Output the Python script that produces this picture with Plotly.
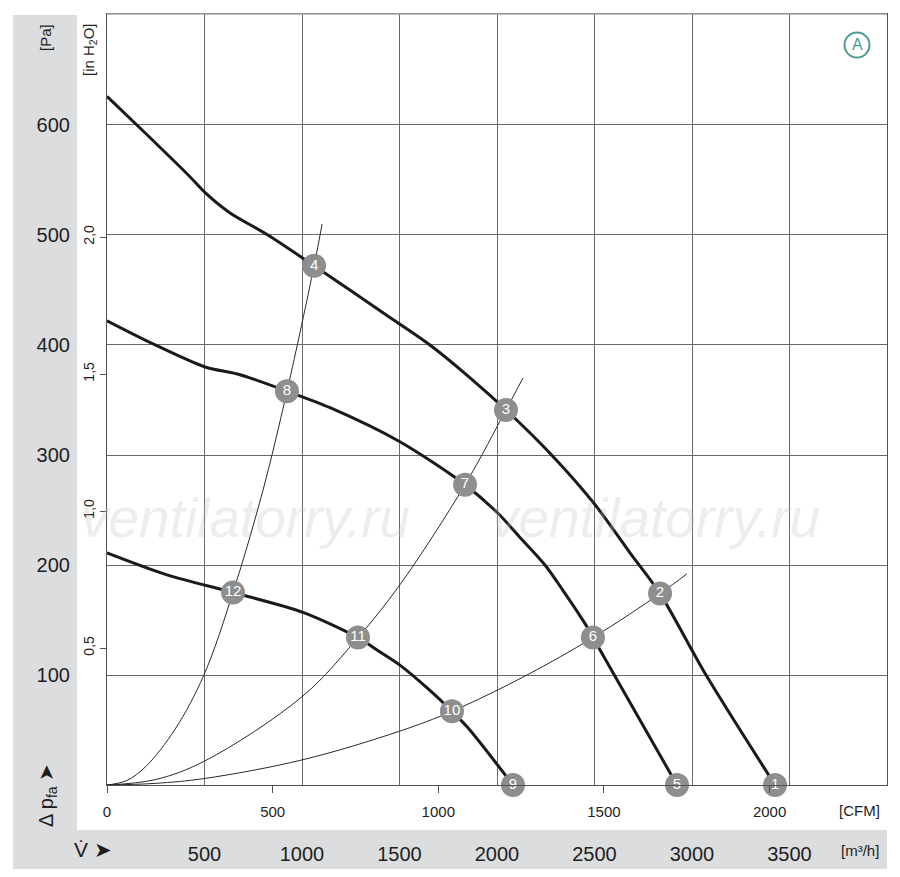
import plotly.graph_objects as go

# readings from the chart, flow in m3/h, pressure in Pa
q_fan_a = [0, 200, 425, 506, 631, 825, 1062, 1451, 1656, 1850, 2046, 2280, 2502, 2682, 2836, 3072, 3426]
p_fan_a = [626, 592, 553, 538, 520, 500, 472, 425, 400, 372, 341, 300, 255, 211, 174, 100, 0]

q_fan_b = [0, 236, 503, 682, 923, 1144, 1502, 1836, 2005, 2118, 2246, 2338, 2461, 2492, 2923]
p_fan_b = [422, 401, 380, 373, 358, 343, 312, 273, 247, 225, 200, 177, 144, 134, 0]

q_fan_c = [0, 308, 646, 1005, 1287, 1400, 1502, 1656, 1769, 1851, 2082]
p_fan_c = [211, 191, 175, 157, 134, 121, 109, 86, 67, 52, 0]

q_sys_1 = [0, 100, 200, 350, 497, 646, 800, 923, 1062, 1103]
p_sys_1 = [0, 4, 17, 51, 100, 175, 268, 358, 472, 510]

q_sys_2 = [0, 250, 503, 1005, 1287, 1502, 1836, 2046, 2133]
p_sys_2 = [0, 5, 22, 81, 134, 182, 273, 341, 370]

q_sys_3 = [0, 250, 503, 1005, 1502, 1769, 2154, 2492, 2836, 2974]
p_sys_3 = [0, 1.5, 6, 23, 49, 67, 100, 134, 174, 192]

pt_id = ["1", "2", "3", "4", "5", "6", "7", "8", "9", "10", "11", "12"]
pt_q = [3426, 2836, 2046, 1062, 2923, 2492, 1836, 923, 2082, 1769, 1287, 646]
pt_p = [0, 174, 341, 472, 0, 134, 273, 358, 0, 67, 134, 175]

m3h_ticks = [500, 1000, 1500, 2000, 2500, 3000, 3500]
cfm_ticks = [0, 500, 1000, 1500, 2000]
pa_ticks = [100, 200, 300, 400, 500, 600]
inh2o_ticks = [0.5, 1.0, 1.5, 2.0]
inh2o_text = ["0,5", "1,0", "1,5", "2,0"]

CFM = 1.699011   # m3/h per CFM
INH2O = 249.089  # Pa per inch of water
X_MAX = 4000
Y_MAX = 700.9

FONT = "Liberation Sans, Arial, sans-serif"
INK = "#1e1e1e"
GRID = "#6a6a6a"
BAND = "#dcdddf"

# page has an 8px body margin, so the figure is a bit smaller
OFF = 8
W, H = 892, 869
L, R, T, B = 99, 13, 6, 92


def px(x):
    return (x - OFF - L) / (W - L - R)


def py(y):
    return (H - B - (y - OFF)) / (H - B - T)


fig = go.Figure()

for q, p in [(q_sys_1, p_sys_1), (q_sys_2, p_sys_2), (q_sys_3, p_sys_3)]:
    fig.add_trace(go.Scatter(x=q, y=p, mode="lines", hoverinfo="skip",
                             line=dict(color="#2a2a2a", width=1, shape="spline", smoothing=1)))

for q, p in [(q_fan_a, p_fan_a), (q_fan_b, p_fan_b), (q_fan_c, p_fan_c)]:
    fig.add_trace(go.Scatter(x=q, y=p, mode="lines", cliponaxis=False,
                             line=dict(color="#1a1a1a", width=3, shape="spline", smoothing=0.8)))

fig.add_trace(go.Scatter(x=pt_q, y=pt_p, mode="markers+text", text=pt_id,
                         textposition="middle center", cliponaxis=False,
                         marker=dict(size=24, color="#8e8e8e"),
                         textfont=dict(family=FONT, size=15, color="white")))

# empty trace so the CFM / inH2O axes get drawn
fig.add_trace(go.Scatter(x=[], y=[], xaxis="x2", yaxis="y2"))

# grey bands
fig.add_shape(type="rect", xref="paper", yref="paper", x0=px(13), x1=px(77), y0=py(869), y1=py(15),
              fillcolor=BAND, line_width=0, layer="below")
fig.add_shape(type="rect", xref="paper", yref="paper", x0=px(13), x1=px(887), y0=py(869), y1=py(830),
              fillcolor=BAND, line_width=0, layer="below")
# lighter top border
fig.add_shape(type="line", xref="paper", yref="paper", x0=0, x1=1, y0=1, y1=1,
              line=dict(color="#a8a8a8", width=1.5))

# circled A
fig.add_shape(type="circle", xref="paper", yref="paper", xsizemode="pixel", ysizemode="pixel",
              xanchor=px(857), yanchor=py(45), x0=-12.5, x1=12.5, y0=-12.5, y1=12.5,
              line=dict(color="#4e9a95", width=2))

ann = dict(xref="paper", yref="paper", showarrow=False, xanchor="center", yanchor="middle",
           font=dict(family=FONT, color=INK))
fig.add_annotation(ann, x=px(857), y=py(45), text="A", font=dict(family=FONT, size=16, color="#4e9a95"))

# watermark
for wx in [245, 655]:
    fig.add_annotation(ann, x=px(wx), y=py(518), text="ventilatorry.ru",
                       font=dict(family=FONT, size=55, color="rgba(190,190,190,0.28)", style="italic"))

fig.add_annotation(ann, x=px(45), y=py(38), text="[Pa]", textangle=-90, font_size=15)
fig.add_annotation(ann, x=px(90), y=py(50), text="[in H<sub>2</sub>O]", textangle=-90, font_size=15)
fig.add_annotation(ann, x=px(47), y=py(796), text="Δ p<sub>fa</sub> ➤", textangle=-90, font_size=20)
fig.add_annotation(ann, x=px(93), y=py(849), text="V̇ ➤", font_size=21)
fig.add_annotation(ann, x=px(859), y=py(810), text="[CFM]", font_size=15)
fig.add_annotation(ann, x=px(860), y=py(851), text="[m³/h]", font_size=15)

fig.update_layout(
    width=W, height=H,
    margin=dict(l=L, r=R, t=T, b=B),
    paper_bgcolor="white", plot_bgcolor="white",
    showlegend=False,
    font=dict(family=FONT, color=INK),
    xaxis=dict(range=[0, X_MAX], tickvals=m3h_ticks, ticktext=[str(v) for v in m3h_ticks],
               showgrid=True, gridcolor=GRID, gridwidth=1, zeroline=False, ticks="",
               ticklabelstandoff=51, tickfont=dict(size=20),
               showline=True, linecolor="#505050", linewidth=1.2, mirror=True),
    xaxis2=dict(overlaying="x", anchor="y", side="bottom", range=[0, X_MAX / CFM],
                tickvals=cfm_ticks, ticks="outside", ticklen=7, tickcolor="#505050",
                showgrid=False, zeroline=False, tickfont=dict(size=15), ticklabelstandoff=6),
    yaxis=dict(range=[0, Y_MAX], tickvals=pa_ticks, showgrid=True, gridcolor=GRID, gridwidth=1,
               zeroline=False, ticks="", ticklabelstandoff=32, tickfont=dict(size=20),
               showline=True, linecolor="#505050", linewidth=1.2, mirror=True),
    yaxis2=dict(overlaying="y", anchor="x", side="left", range=[0, Y_MAX / INH2O],
                tickvals=inh2o_ticks, ticktext=inh2o_text, ticks="outside", ticklen=6,
                tickcolor="#505050", tickangle=-90, showgrid=False, zeroline=False,
                tickfont=dict(size=14)),
)

fig.write_html("out.html")
